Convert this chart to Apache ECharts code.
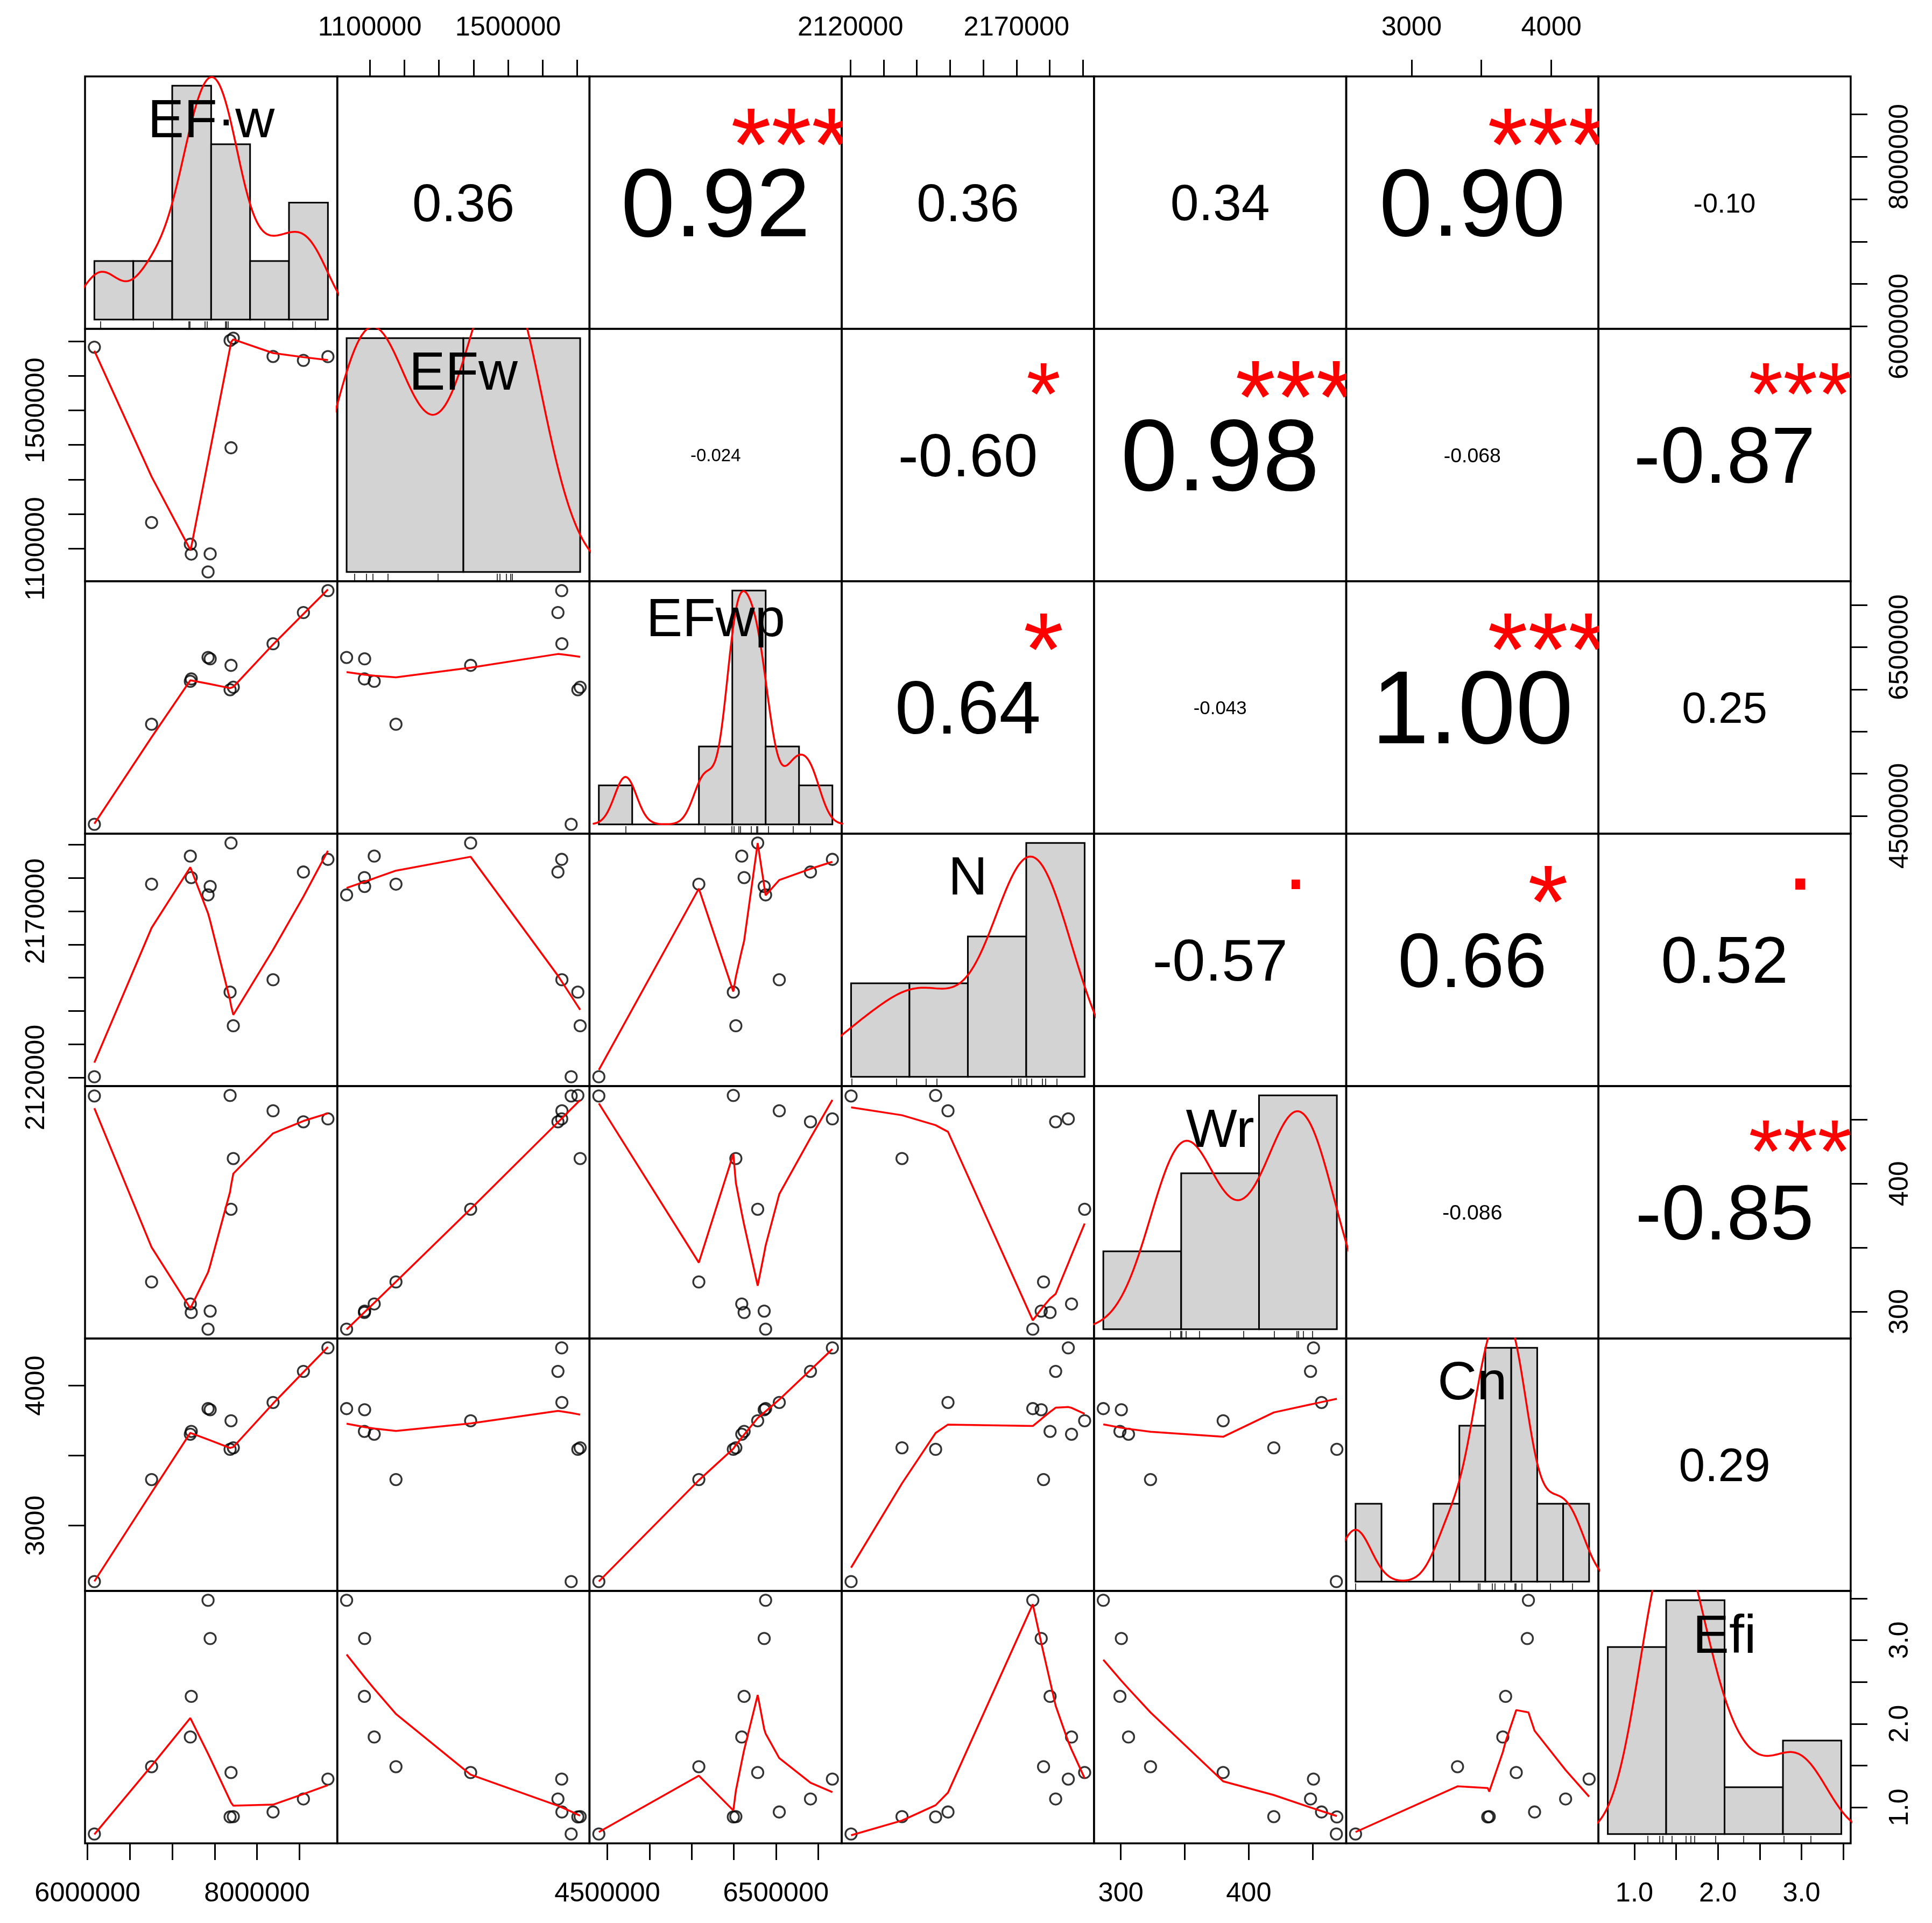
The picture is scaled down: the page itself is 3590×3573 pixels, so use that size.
<!DOCTYPE html>
<html>
<head>
<meta charset="utf-8">
<title>Correlation matrix</title>
<script src="https://cdn.jsdelivr.net/npm/echarts@6/dist/echarts.min.js"></script>
<style>
  html, body { margin: 0; padding: 0; background: #fff; }
  #chart { width: 3590px; height: 3573px; }
</style>
</head>
<body>
<div id="chart"></div>
<script>
// one value per sample, same sample order in every array
const varLabels = ['EF·w', 'EFw', 'EFwp', 'N', 'Wr', 'Cn', 'Efi'];
const efpw = [6081000, 6756000, 7213000, 7224000, 7447000, 7422000, 7693000, 7682000, 7720000, 8189000, 8547000, 8836000];
const efw  = [1682600, 1175800, 1112900, 1084500, 1085100, 1033000, 1391800, 1701900, 1708600, 1655800, 1644300, 1655200];
const efwp = [4400000, 5586000, 6095000, 6123000, 6361000, 6378000, 6284000, 5995000, 6025000, 6540000, 6910000, 7170000];
const nVal = [2120200, 2178130, 2186560, 2180100, 2177430, 2174900, 2190500, 2145650, 2135530, 2149370, 2181780, 2185580];
const wr   = [468.5, 323.2, 306.0, 299.3, 300.4, 286.3, 380.0, 468.9, 419.6, 456.9, 448.3, 450.6];
const cn   = [2600, 3329, 3653, 3673, 3828, 3836, 3749, 3545, 3556, 3880, 4102, 4270];
const efi  = [0.682, 1.487, 1.842, 2.328, 3.02, 3.477, 1.417, 0.886, 0.89, 0.945, 1.101, 1.339];

// histogram breaks and counts on the diagonal
const histBreaks = [
  [6.0e6, 6.5e6, 7.0e6, 7.5e6, 8.0e6, 8.5e6, 9.0e6],
  [1.0e6, 1.5e6, 2.0e6],
  [4.0e6, 4.5e6, 5.0e6, 5.5e6, 6.0e6, 6.5e6, 7.0e6, 7.5e6],
  [2120000, 2140000, 2160000, 2180000, 2200000],
  [200, 300, 400, 500],
  [2600, 2800, 3000, 3200, 3400, 3600, 3800, 4000, 4200, 4400],
  [0, 1, 2, 3, 4]
];
const histCounts = [
  [1, 1, 4, 3, 1, 2],
  [6, 6],
  [1, 0, 0, 2, 6, 2, 1],
  [2, 2, 3, 5],
  [2, 4, 6],
  [1, 0, 0, 1, 2, 3, 3, 1, 1],
  [4, 5, 1, 2]
];

// upper triangle, row by row
const corLabels = ['0.36', '0.92', '0.36', '0.34', '0.90', '-0.10',
                   '-0.024', '-0.60', '0.98', '-0.068', '-0.87',
                   '0.64', '-0.043', '1.00', '0.25',
                   '-0.57', '0.66', '0.52',
                   '-0.086', '-0.85',
                   '0.29'];
const corStars = ['', '***', '', '', '***', '',
                  '', '*', '***', '', '***',
                  '*', '', '***', '',
                  '.', '*', '.',
                  '', '***',
                  ''];

// outer axis ticks and labels
const tickValues = [
  [6.0e6, 6.5e6, 7.0e6, 7.5e6, 8.0e6, 8.5e6],
  [1.1e6, 1.2e6, 1.3e6, 1.4e6, 1.5e6, 1.6e6, 1.7e6],
  [4.5e6, 5.0e6, 5.5e6, 6.0e6, 6.5e6, 7.0e6],
  [2120000, 2130000, 2140000, 2150000, 2160000, 2170000, 2180000, 2190000],
  [300, 350, 400, 450],
  [3000, 3500, 4000],
  [1.0, 1.5, 2.0, 2.5, 3.0, 3.5]
];
const tickLabels = [
  [6000000, 8000000],
  [1100000, 1500000],
  [4500000, 6500000],
  [2120000, 2170000],
  [300, 400],
  [3000, 4000],
  [1.0, 2.0, 3.0]
];

const vars = [efpw, efw, efwp, nVal, wr, cn, efi];
const nv = vars.length;
const FONT = '"Liberation Sans", Arial, sans-serif';
const gridLeft = 158, gridTop = 142, cellW = 468.7, cellH = 469;

function ext(lo, hi) {
  const d = hi - lo;
  return [lo - 0.04 * d, hi + 0.04 * d];
}
const ranges = vars.map(v => ext(Math.min(...v), Math.max(...v)));

// R's lowess (clowess)
function lowess(xIn, yIn, f, nsteps) {
  const n = xIn.length;
  const ord = xIn.map((v, i) => i).sort((a, b) => xIn[a] - xIn[b] || a - b);
  const x = [0].concat(ord.map(i => xIn[i]));
  const y = [0].concat(ord.map(i => yIn[i]));
  const ys = new Array(n + 1).fill(0), rw = new Array(n + 1).fill(0);
  const res = new Array(n + 1).fill(0), w = new Array(n + 1).fill(0);
  const delta = 0.01 * (x[n] - x[1]);
  const ns = Math.max(2, Math.min(n, Math.floor(f * n + 1e-7)));

  function lowest(xs, nleft, nright, userw) {
    const range = x[n] - x[1];
    const h = Math.max(xs - x[nleft], x[nright] - xs);
    const h9 = 0.999 * h, h1 = 0.001 * h;
    let a = 0, j = nleft;
    while (j <= n) {
      w[j] = 0;
      const r = Math.abs(x[j] - xs);
      if (r <= h9) {
        w[j] = r <= h1 ? 1 : Math.pow(1 - Math.pow(r / h, 3), 3);
        if (userw) w[j] *= rw[j];
        a += w[j];
      } else if (x[j] > xs) break;
      j++;
    }
    const nrt = j - 1;
    if (a <= 0) return null;
    for (j = nleft; j <= nrt; j++) w[j] /= a;
    if (h > 0) {
      a = 0;
      for (j = nleft; j <= nrt; j++) a += w[j] * x[j];
      let b = xs - a, c = 0;
      for (j = nleft; j <= nrt; j++) c += w[j] * (x[j] - a) * (x[j] - a);
      if (Math.sqrt(c) > 0.001 * range) {
        b /= c;
        for (j = nleft; j <= nrt; j++) w[j] *= (b * (x[j] - a) + 1);
      }
    }
    let out = 0;
    for (j = nleft; j <= nrt; j++) out += w[j] * y[j];
    return out;
  }

  let iter = 1;
  while (iter <= nsteps + 1) {
    let nleft = 1, nright = ns, last = 0, i = 1;
    for (;;) {
      if (nright < n) {
        const d1 = x[i] - x[nleft], d2 = x[nright + 1] - x[i];
        if (d1 > d2) { nleft++; nright++; continue; }
      }
      const v = lowest(x[i], nleft, nright, iter > 1);
      ys[i] = v === null ? y[i] : v;
      if (last < i - 1) {
        const denom = x[i] - x[last];
        for (let j = last + 1; j < i; j++) {
          const alpha = (x[j] - x[last]) / denom;
          ys[j] = alpha * ys[i] + (1 - alpha) * ys[last];
        }
      }
      last = i;
      const cut = x[last] + delta;
      for (i = last + 1; i <= n; i++) {
        if (x[i] > cut) break;
        if (x[i] === x[last]) { ys[i] = ys[last]; last = i; }
      }
      i = Math.max(last + 1, i - 1);
      if (last >= n) break;
    }
    let sc = 0;
    for (let k = 1; k <= n; k++) { res[k] = y[k] - ys[k]; sc += Math.abs(res[k]); }
    sc /= n;
    if (iter > nsteps) break;
    const s = res.slice(1).map(Math.abs).sort((a, b) => a - b);
    const m1 = Math.floor(n / 2);
    const cmad = n % 2 === 0 ? 3 * (s[m1] + s[n - m1 - 1]) : 6 * s[m1];
    if (cmad < 1e-7 * sc) break;
    const c9 = 0.999 * cmad, c1 = 0.001 * cmad;
    for (let k = 1; k <= n; k++) {
      const r = Math.abs(res[k]);
      rw[k] = r <= c1 ? 1 : (r <= c9 ? Math.pow(1 - Math.pow(r / cmad, 2), 2) : 0);
    }
    iter++;
  }
  return x.slice(1).map((xv, k) => [xv, ys[k + 1]]);
}

// R's density() with bw.nrd0
function q7(s, p) {
  const h = (s.length - 1) * p, lo = Math.floor(h);
  return s[lo] + (h - lo) * (s[Math.min(lo + 1, s.length - 1)] - s[lo]);
}
function density(x) {
  const n = x.length;
  const mean = x.reduce((a, b) => a + b, 0) / n;
  const sd = Math.sqrt(x.reduce((a, b) => a + (b - mean) * (b - mean), 0) / (n - 1));
  const s = x.slice().sort((a, b) => a - b);
  let lo = Math.min(sd, (q7(s, 0.75) - q7(s, 0.25)) / 1.34);
  if (!lo) lo = sd || Math.abs(x[0]) || 1;
  const bw = 0.9 * lo * Math.pow(n, -0.2);
  const from = s[0] - 3 * bw, to = s[n - 1] + 3 * bw;
  const out = [];
  for (let k = 0; k < 512; k++) {
    const t = from + (to - from) * k / 511;
    let sum = 0;
    for (const v of x) { const z = (t - v) / bw; sum += Math.exp(-0.5 * z * z); }
    out.push([t, sum / (n * bw * Math.sqrt(2 * Math.PI))]);
  }
  return out;
}

// text metrics: width and shift so the ink is centred on y
const mctx = document.createElement('canvas').getContext('2d');
function measure(txt, size) {
  mctx.font = size + 'px ' + FONT;
  mctx.textBaseline = 'middle';
  const m = mctx.measureText(txt);
  return { w: m.width, dy: (m.actualBoundingBoxAscent - m.actualBoundingBoxDescent) / 2 };
}

const grid = [], xAxis = [], yAxis = [], series = [];
const hidden = { show: false };

function outerAxis(list, gi, k, pos, isY) {
  list.push({
    type: 'value', gridIndex: gi, position: pos,
    min: ranges[k][0], max: ranges[k][1],
    axisLine: { show: false, onZero: false },
    splitLine: { show: false },
    axisTick: { show: true, customValues: tickValues[k], length: 31, lineStyle: { color: '#000', width: 3 } },
    axisLabel: {
      show: true, customValues: tickLabels[k],
      formatter: v => k === 6 ? Number(v).toFixed(1) : String(Math.round(v)),
      fontSize: 50.5, fontFamily: FONT, color: '#000',
      rotate: isY ? 90 : 0,
      margin: pos === 'bottom' ? 69 : pos === 'top' ? 64 : pos === 'left' ? 64 : 67
    }
  });
}

let up = 0;
for (let i = 0; i < nv; i++) {
  for (let j = 0; j < nv; j++) {
    const gi = grid.length;
    grid.push({
      left: gridLeft + j * cellW, top: gridTop + i * cellH, width: cellW, height: cellH,
      show: true, borderColor: '#000', borderWidth: 3.5, backgroundColor: 'transparent'
    });
    let xr, yr;
    if (i === j) {
      const b = histBreaks[i], c = histCounts[i];
      const bw = b[1] - b[0];
      const maxD = Math.max(...c) / (vars[i].length * bw);
      xr = ext(b[0], b[b.length - 1]);
      yr = ext(0, maxD);
    } else if (i > j) {
      xr = ranges[j]; yr = ranges[i];
    } else {
      xr = [0, 1]; yr = [0, 1];
    }
    const xi = xAxis.length;
    if (i === j) {
      xAxis.push({
        type: 'value', gridIndex: gi, position: 'bottom', min: xr[0], max: xr[1],
        axisLine: { show: false, onZero: false }, splitLine: hidden, axisLabel: hidden,
        axisTick: { show: true, inside: true, length: 0.03 * cellH, customValues: vars[i],
                    lineStyle: { color: '#000', width: 1.5 } }
      });
    } else {
      xAxis.push({ type: 'value', gridIndex: gi, min: xr[0], max: xr[1], show: false, axisLine: { onZero: false } });
    }
    const yi = yAxis.length;
    yAxis.push({ type: 'value', gridIndex: gi, min: yr[0], max: yr[1], show: false, axisLine: { onZero: false } });

    // outer axes
    if (i === nv - 1 && j % 2 === 0) outerAxis(xAxis, gi, j, 'bottom', false);
    if (i === 0 && j % 2 === 1) outerAxis(xAxis, gi, j, 'top', false);
    if (j === 0 && i % 2 === 1) outerAxis(yAxis, gi, i, 'left', true);
    if (j === nv - 1 && i % 2 === 0) outerAxis(yAxis, gi, i, 'right', true);

    if (i > j) {
      series.push({
        type: 'scatter', xAxisIndex: xi, yAxisIndex: yi, silent: true, z: 2,
        data: vars[j].map((v, k) => [v, vars[i][k]]),
        symbol: 'circle', symbolSize: 21,
        itemStyle: { color: 'rgba(0,0,0,0)', borderColor: '#000', borderWidth: 3.3 }
      });
      series.push({
        type: 'line', xAxisIndex: xi, yAxisIndex: yi, silent: true, z: 3, clip: true,
        data: lowess(vars[j], vars[i], 2 / 3, 3), showSymbol: false, symbol: 'none',
        lineStyle: { color: '#ff0000', width: 3.5 }
      });
    } else if (i === j) {
      const b = histBreaks[i], c = histCounts[i], n = vars[i].length;
      const bins = c.map((cnt, k) => [b[k], b[k + 1], cnt / (n * (b[k + 1] - b[k]))]);
      series.push({
        type: 'custom', xAxisIndex: xi, yAxisIndex: yi, silent: true, z: 2,
        data: bins, encode: { x: [0, 1], y: 2 },
        renderItem: (params, api) => {
          const p0 = api.coord([api.value(0), 0]);
          const p1 = api.coord([api.value(1), api.value(2)]);
          return {
            type: 'rect',
            shape: { x: p0[0], y: p1[1], width: p1[0] - p0[0], height: p0[1] - p1[1] },
            style: { fill: '#d3d3d3', stroke: '#000', lineWidth: 3 }
          };
        }
      });
      series.push({
        type: 'line', xAxisIndex: xi, yAxisIndex: yi, silent: true, z: 3, clip: true,
        data: density(vars[i]), showSymbol: false, symbol: 'none',
        lineStyle: { color: '#ff0000', width: 3.5 }
      });
      const lab = varLabels[i];
      const lm = measure(lab, 101);
      const lx = (xr[0] + xr[1]) / 2, ly = yr[0] + (yr[1] - yr[0]) * 5 / 6;
      series.push({
        type: 'custom', xAxisIndex: xi, yAxisIndex: yi, silent: true, z: 5,
        data: [[lx, ly]],
        renderItem: (params, api) => {
          const p = api.coord([lx, ly]);
          return { type: 'text', x: p[0], y: p[1] + lm.dy,
                   style: { text: lab, fontSize: 101, fontFamily: FONT, fill: '#000', align: 'center', verticalAlign: 'middle' } };
        }
      });
    } else {
      const txt = corLabels[up], star = corStars[up];
      up++;
      const r = Math.abs(parseFloat(txt));
      const baseW = measure(txt, 100).w / 100;
      const starSize = 0.8 * cellW / baseW;
      const mainSize = starSize * (r + 0.3) / 1.3;
      const mm = measure(txt, mainSize);
      const sm = star ? measure(star, starSize) : null;
      series.push({
        type: 'custom', xAxisIndex: xi, yAxisIndex: yi, silent: true, z: 5, clip: true,
        data: [[0.5, 0.5]],
        renderItem: (params, api) => {
          const c = api.coord([0.5, 0.5]);
          const children = [{
            type: 'text', x: c[0], y: c[1] + mm.dy,
            style: { text: txt, fontSize: mainSize, fontFamily: FONT, fill: '#000', align: 'center', verticalAlign: 'middle' }
          }];
          if (star) {
            const s = api.coord([0.8, 0.8]);
            children.push({
              type: 'text', x: s[0], y: s[1] + sm.dy,
              style: { text: star, fontSize: starSize, fontFamily: FONT, fill: '#ff0000', align: 'center', verticalAlign: 'middle' }
            });
          }
          return { type: 'group', children: children };
        }
      });
    }
  }
}

const chart = echarts.init(document.getElementById('chart'), null, { renderer: 'canvas' });
chart.setOption({
  animation: false,
  backgroundColor: '#ffffff',
  grid: grid,
  xAxis: xAxis,
  yAxis: yAxis,
  series: series
});
window.addEventListener('resize', chart.resize);
</script>
</body>
</html>
